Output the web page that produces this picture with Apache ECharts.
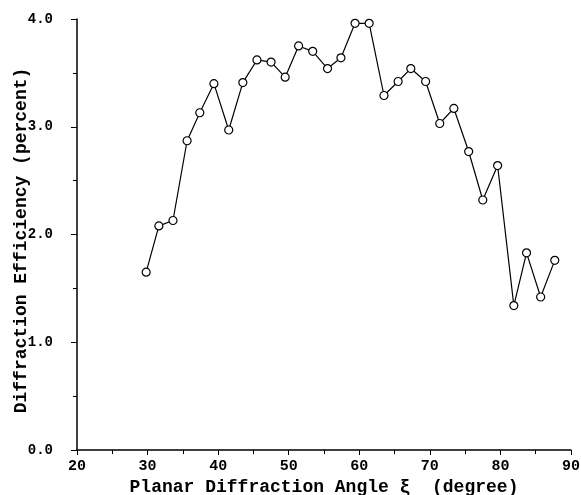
<!DOCTYPE html>
<html style="height: 100%">
<head>
    <meta charset="utf-8">
</head>
<body style="height: 100%; margin: 0">
    <div id="container" style="width: 581px; height: 495px;"></div>
    <script type="text/javascript" src="https://cdn.jsdelivr.net/npm/echarts@6/dist/echarts.min.js"></script>
    <script type="text/javascript">
        // angles (degree) and efficiency (percent)
        var angles = [29.8, 31.6, 33.6, 35.6, 37.4, 39.4, 41.5, 43.5, 45.5, 47.5,
                      49.5, 51.4, 53.4, 55.5, 57.4, 59.4, 61.4, 63.5, 65.5, 67.3,
                      69.4, 71.4, 73.4, 75.5, 77.5, 79.6, 81.9, 83.7, 85.7, 87.7];
        var efficiency = [1.65, 2.08, 2.13, 2.87, 3.13, 3.40, 2.97, 3.41, 3.62, 3.60,
                          3.46, 3.75, 3.70, 3.54, 3.64, 3.96, 3.96, 3.29, 3.42, 3.54,
                          3.42, 3.03, 3.17, 2.77, 2.32, 2.64, 1.34, 1.83, 1.42, 1.76];

        var points = [];
        for (var i = 0; i < angles.length; i++) {
            points.push([angles[i], efficiency[i]]);
        }

        var dom = document.getElementById("container");
        var myChart = echarts.init(dom);
        var font = 'Liberation Mono';

        var option = {
            backgroundColor: '#fff',
            animation: false,
            grid: { left: 77, right: 10, top: 19, bottom: 45, outerBoundsMode: 'none', containLabel: false },
            xAxis: {
                type: 'value',
                min: 20,
                max: 90,
                interval: 10,
                name: 'Planar Diffraction Angle ξ  (degree)',
                nameLocation: 'middle',
                nameGap: 28,
                nameMoveOverlap: false,
                nameTextStyle: { color: '#000', fontFamily: font, fontWeight: 'bold', fontSize: 18 },
                axisLine: { lineStyle: { color: '#000', width: 1.5 } },
                axisTick: { lineStyle: { color: '#000' }, length: 5 },
                minorTick: { show: true, splitNumber: 2, length: 4, lineStyle: { color: '#000' } },
                axisLabel: { color: '#000', fontFamily: font, fontWeight: 'bold', fontSize: 15, margin: 9 },
                splitLine: { show: false }
            },
            yAxis: {
                type: 'value',
                min: 0,
                max: 4,
                interval: 1,
                name: 'Diffraction Efficiency (percent)',
                nameLocation: 'middle',
                nameGap: 47,
                nameMoveOverlap: false,
                nameTextStyle: {
                    color: '#000', fontFamily: font, fontWeight: 'bold', fontSize: 18,
                    padding: [0, 12, 0, 0]
                },
                axisLine: { show: true, lineStyle: { color: '#000', width: 1.5 } },
                axisTick: { show: true, lineStyle: { color: '#000' }, length: 6 },
                minorTick: { show: true, splitNumber: 2, length: 4, lineStyle: { color: '#000' } },
                axisLabel: {
                    color: '#000', fontFamily: font, fontWeight: 'bold', fontSize: 14, margin: 24,
                    formatter: function (v) { return v.toFixed(1); }
                },
                splitLine: { show: false }
            },
            series: [
                {
                    type: 'line',
                    data: points,
                    symbol: 'circle',
                    symbolSize: 8,
                    lineStyle: { color: '#000', width: 1.2 },
                    itemStyle: { color: '#fff', borderColor: '#000', borderWidth: 1.2 }
                }
            ]
        };
        myChart.setOption(option, true);
    </script>
</body>
</html>
